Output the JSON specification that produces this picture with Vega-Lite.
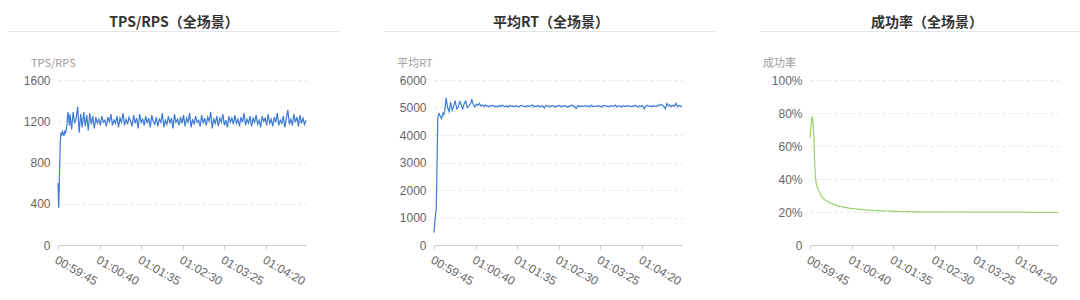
{
"$schema": "https://vega.github.io/schema/vega-lite/v6.json",
"background": "white",
"padding": {"left": 8, "top": 16, "right": 0, "bottom": 0},
"data": {"format": {"parse": {"t": "date:'%H:%M:%S'"}}, "values": [
{"t":"00:59:45","tps":600,"rt":450,"sr":0.65},
{"t":"00:59:46","tps":360,"rt":800,"sr":0.70},
{"t":"00:59:47","tps":700,"rt":1100,"sr":0.76},
{"t":"00:59:48","tps":1000,"rt":1300,"sr":0.78},
{"t":"00:59:49","tps":1090,"rt":2900,"sr":0.74},
{"t":"00:59:50","tps":1060,"rt":4600,"sr":0.67},
{"t":"00:59:51","tps":1100,"rt":4750,"sr":0.52},
{"t":"00:59:52","tps":1080,"rt":4780,"sr":0.42},
{"t":"00:59:53","tps":1060,"rt":4700,"sr":0.38},
{"t":"00:59:54","tps":1110,"rt":4650,"sr":0.36},
{"t":"00:59:55","tps":1090,"rt":4600,"sr":0.345},
{"t":"00:59:56","tps":1120,"rt":4700,"sr":0.335},
{"t":"00:59:57","tps":1180,"rt":4800,"sr":0.325},
{"t":"00:59:58","tps":1290,"rt":4750,"sr":0.315},
{"t":"00:59:59","tps":1240,"rt":4850,"sr":0.305},
{"t":"01:00:00","tps":1160,"rt":5050,"sr":0.298},
{"t":"01:00:01","tps":1270,"rt":5350,"sr":0.29},
{"t":"01:00:03","tps":1120,"rt":5000,"sr":0.28},
{"t":"01:00:05","tps":1290,"rt":4850,"sr":0.273},
{"t":"01:00:07","tps":1180,"rt":5200,"sr":0.267},
{"t":"01:00:09","tps":1230,"rt":4900,"sr":0.262},
{"t":"01:00:11","tps":1340,"rt":5050,"sr":0.257},
{"t":"01:00:13","tps":1090,"rt":5250,"sr":0.253},
{"t":"01:00:15","tps":1270,"rt":4950,"sr":0.249},
{"t":"01:00:17","tps":1140,"rt":5000,"sr":0.245},
{"t":"01:00:19","tps":1290,"rt":5220,"sr":0.242},
{"t":"01:00:21","tps":1150,"rt":5100,"sr":0.239},
{"t":"01:00:23","tps":1260,"rt":4950,"sr":0.236},
{"t":"01:00:25","tps":1110,"rt":5150,"sr":0.234},
{"t":"01:00:27","tps":1280,"rt":5230,"sr":0.232},
{"t":"01:00:29","tps":1170,"rt":5000,"sr":0.23},
{"t":"01:00:31","tps":1250,"rt":5050,"sr":0.228},
{"t":"01:00:33","tps":1130,"rt":5120,"sr":0.226},
{"t":"01:00:35","tps":1240,"rt":5280,"sr":0.225},
{"t":"01:00:37","tps":1180,"rt":5100,"sr":0.223},
{"t":"01:00:39","tps":1220,"rt":5020,"sr":0.222},
{"t":"01:00:41","tps":1160,"rt":5120,"sr":0.221},
{"t":"01:00:43","tps":1250,"rt":5080,"sr":0.22},
{"t":"01:00:45","tps":1190,"rt":5150,"sr":0.219},
{"t":"01:00:47","tps":1210,"rt":5050,"sr":0.218},
{"t":"01:00:49","tps":1150,"rt":5100,"sr":0.217},
{"t":"01:00:51","tps":1240,"rt":5040,"sr":0.216},
{"t":"01:00:53","tps":1190,"rt":5090,"sr":0.215},
{"t":"01:00:55","tps":1270,"rt":5060,"sr":0.214},
{"t":"01:00:57","tps":1160,"rt":5030,"sr":0.213},
{"t":"01:00:59","tps":1210,"rt":5070,"sr":0.212},
{"t":"01:01:01","tps":1180,"rt":5050,"sr":0.211},
{"t":"01:01:03","tps":1250,"rt":5080,"sr":0.211},
{"t":"01:01:05","tps":1140,"rt":5030,"sr":0.21},
{"t":"01:01:07","tps":1230,"rt":5060,"sr":0.21},
{"t":"01:01:09","tps":1190,"rt":5020,"sr":0.209},
{"t":"01:01:11","tps":1280,"rt":5070,"sr":0.209},
{"t":"01:01:13","tps":1160,"rt":5040,"sr":0.208},
{"t":"01:01:15","tps":1220,"rt":5090,"sr":0.208},
{"t":"01:01:17","tps":1170,"rt":5050,"sr":0.208},
{"t":"01:01:19","tps":1240,"rt":5030,"sr":0.207},
{"t":"01:01:21","tps":1200,"rt":5060,"sr":0.207},
{"t":"01:01:23","tps":1150,"rt":5010,"sr":0.206},
{"t":"01:01:25","tps":1260,"rt":5080,"sr":0.206},
{"t":"01:01:27","tps":1180,"rt":5040,"sr":0.206},
{"t":"01:01:29","tps":1230,"rt":5060,"sr":0.205},
{"t":"01:01:31","tps":1130,"rt":5030,"sr":0.205},
{"t":"01:01:33","tps":1270,"rt":5070,"sr":0.205},
{"t":"01:01:35","tps":1190,"rt":5050,"sr":0.204},
{"t":"01:01:37","tps":1220,"rt":5020,"sr":0.204},
{"t":"01:01:39","tps":1160,"rt":5060,"sr":0.204},
{"t":"01:01:41","tps":1250,"rt":5080,"sr":0.204},
{"t":"01:01:43","tps":1180,"rt":5040,"sr":0.203},
{"t":"01:01:45","tps":1230,"rt":5050,"sr":0.203},
{"t":"01:01:47","tps":1140,"rt":5030,"sr":0.203},
{"t":"01:01:49","tps":1260,"rt":5070,"sr":0.203},
{"t":"01:01:51","tps":1200,"rt":5040,"sr":0.202},
{"t":"01:01:53","tps":1170,"rt":5060,"sr":0.202},
{"t":"01:01:55","tps":1240,"rt":5090,"sr":0.202},
{"t":"01:01:57","tps":1150,"rt":5030,"sr":0.202},
{"t":"01:01:59","tps":1220,"rt":5050,"sr":0.202},
{"t":"01:02:01","tps":1190,"rt":5040,"sr":0.201},
{"t":"01:02:03","tps":1280,"rt":5070,"sr":0.202},
{"t":"01:02:05","tps":1140,"rt":5020,"sr":0.201},
{"t":"01:02:07","tps":1210,"rt":5060,"sr":0.201},
{"t":"01:02:09","tps":1170,"rt":5050,"sr":0.201},
{"t":"01:02:11","tps":1250,"rt":4980,"sr":0.2},
{"t":"01:02:13","tps":1180,"rt":5080,"sr":0.201},
{"t":"01:02:15","tps":1230,"rt":5040,"sr":0.201},
{"t":"01:02:17","tps":1130,"rt":5060,"sr":0.2},
{"t":"01:02:19","tps":1270,"rt":5030,"sr":0.201},
{"t":"01:02:21","tps":1190,"rt":5070,"sr":0.2},
{"t":"01:02:23","tps":1220,"rt":5050,"sr":0.201},
{"t":"01:02:25","tps":1160,"rt":5020,"sr":0.2},
{"t":"01:02:27","tps":1240,"rt":5060,"sr":0.2},
{"t":"01:02:29","tps":1180,"rt":5040,"sr":0.201},
{"t":"01:02:31","tps":1260,"rt":5080,"sr":0.2},
{"t":"01:02:33","tps":1150,"rt":5030,"sr":0.2},
{"t":"01:02:35","tps":1230,"rt":5060,"sr":0.201},
{"t":"01:02:37","tps":1190,"rt":5050,"sr":0.2},
{"t":"01:02:39","tps":1280,"rt":5070,"sr":0.2},
{"t":"01:02:41","tps":1140,"rt":5020,"sr":0.2},
{"t":"01:02:43","tps":1220,"rt":5050,"sr":0.201},
{"t":"01:02:45","tps":1170,"rt":5040,"sr":0.2},
{"t":"01:02:47","tps":1250,"rt":5090,"sr":0.2},
{"t":"01:02:49","tps":1190,"rt":5060,"sr":0.2},
{"t":"01:02:51","tps":1210,"rt":5030,"sr":0.2},
{"t":"01:02:53","tps":1150,"rt":4960,"sr":0.2},
{"t":"01:02:55","tps":1260,"rt":5070,"sr":0.2},
{"t":"01:02:57","tps":1180,"rt":5040,"sr":0.2},
{"t":"01:02:59","tps":1230,"rt":5060,"sr":0.2},
{"t":"01:03:01","tps":1160,"rt":5050,"sr":0.2},
{"t":"01:03:03","tps":1240,"rt":5030,"sr":0.2},
{"t":"01:03:05","tps":1200,"rt":5070,"sr":0.2},
{"t":"01:03:07","tps":1290,"rt":5040,"sr":0.199},
{"t":"01:03:09","tps":1130,"rt":5060,"sr":0.2},
{"t":"01:03:11","tps":1220,"rt":5020,"sr":0.2},
{"t":"01:03:13","tps":1180,"rt":5080,"sr":0.199},
{"t":"01:03:15","tps":1250,"rt":5050,"sr":0.2},
{"t":"01:03:17","tps":1150,"rt":5030,"sr":0.199},
{"t":"01:03:19","tps":1230,"rt":5060,"sr":0.2},
{"t":"01:03:21","tps":1190,"rt":5040,"sr":0.199},
{"t":"01:03:23","tps":1270,"rt":5070,"sr":0.2},
{"t":"01:03:25","tps":1160,"rt":5050,"sr":0.199},
{"t":"01:03:27","tps":1210,"rt":5020,"sr":0.199},
{"t":"01:03:29","tps":1140,"rt":5060,"sr":0.2},
{"t":"01:03:31","tps":1250,"rt":5080,"sr":0.199},
{"t":"01:03:33","tps":1190,"rt":5040,"sr":0.199},
{"t":"01:03:35","tps":1230,"rt":5050,"sr":0.199},
{"t":"01:03:37","tps":1170,"rt":5030,"sr":0.2},
{"t":"01:03:39","tps":1260,"rt":5070,"sr":0.199},
{"t":"01:03:41","tps":1180,"rt":5060,"sr":0.199},
{"t":"01:03:43","tps":1220,"rt":5040,"sr":0.199},
{"t":"01:03:45","tps":1150,"rt":5090,"sr":0.199},
{"t":"01:03:47","tps":1240,"rt":5030,"sr":0.199},
{"t":"01:03:49","tps":1190,"rt":5050,"sr":0.199},
{"t":"01:03:51","tps":1280,"rt":5060,"sr":0.199},
{"t":"01:03:53","tps":1160,"rt":5020,"sr":0.199},
{"t":"01:03:55","tps":1220,"rt":5070,"sr":0.199},
{"t":"01:03:57","tps":1180,"rt":5040,"sr":0.199},
{"t":"01:03:59","tps":1250,"rt":5060,"sr":0.199},
{"t":"01:04:01","tps":1150,"rt":5050,"sr":0.199},
{"t":"01:04:03","tps":1230,"rt":5070,"sr":0.199},
{"t":"01:04:05","tps":1190,"rt":5030,"sr":0.199},
{"t":"01:04:07","tps":1260,"rt":5060,"sr":0.199},
{"t":"01:04:09","tps":1170,"rt":5040,"sr":0.199},
{"t":"01:04:11","tps":1210,"rt":5080,"sr":0.199},
{"t":"01:04:13","tps":1140,"rt":5050,"sr":0.199},
{"t":"01:04:15","tps":1250,"rt":5020,"sr":0.199},
{"t":"01:04:17","tps":1200,"rt":5060,"sr":0.199},
{"t":"01:04:19","tps":1230,"rt":5040,"sr":0.199},
{"t":"01:04:21","tps":1160,"rt":5070,"sr":0.199},
{"t":"01:04:23","tps":1270,"rt":4950,"sr":0.199},
{"t":"01:04:25","tps":1180,"rt":5050,"sr":0.199},
{"t":"01:04:27","tps":1220,"rt":5080,"sr":0.199},
{"t":"01:04:29","tps":1150,"rt":5040,"sr":0.199},
{"t":"01:04:31","tps":1240,"rt":5060,"sr":0.198},
{"t":"01:04:33","tps":1190,"rt":5030,"sr":0.199},
{"t":"01:04:35","tps":1280,"rt":5070,"sr":0.198},
{"t":"01:04:37","tps":1160,"rt":5050,"sr":0.198},
{"t":"01:04:39","tps":1210,"rt":5040,"sr":0.198},
{"t":"01:04:41","tps":1180,"rt":5090,"sr":0.198},
{"t":"01:04:43","tps":1250,"rt":5060,"sr":0.198},
{"t":"01:04:45","tps":1140,"rt":5120,"sr":0.198},
{"t":"01:04:47","tps":1230,"rt":5080,"sr":0.198},
{"t":"01:04:49","tps":1310,"rt":5040,"sr":0.198},
{"t":"01:04:51","tps":1170,"rt":4950,"sr":0.198},
{"t":"01:04:53","tps":1220,"rt":5150,"sr":0.198},
{"t":"01:04:55","tps":1160,"rt":5060,"sr":0.198},
{"t":"01:04:57","tps":1270,"rt":5090,"sr":0.198},
{"t":"01:04:59","tps":1190,"rt":5030,"sr":0.198},
{"t":"01:05:01","tps":1240,"rt":5080,"sr":0.198},
{"t":"01:05:03","tps":1150,"rt":5050,"sr":0.198},
{"t":"01:05:05","tps":1260,"rt":5150,"sr":0.198},
{"t":"01:05:07","tps":1180,"rt":5030,"sr":0.198},
{"t":"01:05:09","tps":1230,"rt":5070,"sr":0.198},
{"t":"01:05:11","tps":1170,"rt":5040,"sr":0.198},
{"t":"01:05:13","tps":1210,"rt":5060,"sr":0.198}
]},
"bounds": "flush",
"spacing": 50,
"vconcat": [
{"bounds": "flush", "spacing": 128, "hconcat": [
 {"width": 248, "height": 1, "title": {"text": "TPS/RPS（全场景）", "dx": -8}, "data": {"values": [{"v": 0}, {"v": 1}]}, "mark": {"type": "point", "opacity": 0, "size": 0},
  "encoding": {"x": {"field": "v", "type": "quantitative", "scale": {"domain": [0, 1], "range": [-49.5, 282.5]}, "axis": {"title": null, "labels": false, "ticks": false, "grid": false, "domainColor": "#e4e6eb"}}}},
 {"width": 248, "height": 1, "title": {"text": "平均RT（全场景）", "dx": -7}, "data": {"values": [{"v": 0}, {"v": 1}]}, "mark": {"type": "point", "opacity": 0, "size": 0},
  "encoding": {"x": {"field": "v", "type": "quantitative", "scale": {"domain": [0, 1], "range": [-49.5, 282.5]}, "axis": {"title": null, "labels": false, "ticks": false, "grid": false, "domainColor": "#e4e6eb"}}}},
 {"width": 248, "height": 1, "title": {"text": "成功率（全场景）", "dx": -7}, "data": {"values": [{"v": 0}, {"v": 1}]}, "mark": {"type": "point", "opacity": 0, "size": 0},
  "encoding": {"x": {"field": "v", "type": "quantitative", "scale": {"domain": [0, 1], "range": [-50, 270]}, "axis": {"title": null, "labels": false, "ticks": false, "grid": false, "domainColor": "#e4e6eb"}}}}
]},
{"bounds": "flush", "spacing": 128, "hconcat": [
 {"width": 248, "height": 165, "mark": {"type": "line", "color": "#3b7bd6", "strokeWidth": 1.2},
  "encoding": {
   "x": {"field": "t", "type": "temporal", "title": null,
     "scale": {"nice": false, "domain": [{"year": 1900, "month": 1, "date": 1, "hours": 0, "minutes": 59, "seconds": 45}, {"year": 1900, "month": 1, "date": 1, "hours": 1, "minutes": 5, "seconds": 13}]},
     "axis": {"format": "%H:%M:%S", "values": [
       {"year": 1900, "month": 1, "date": 1, "hours": 0, "minutes": 59, "seconds": 45},
       {"year": 1900, "month": 1, "date": 1, "hours": 1, "minutes": 0, "seconds": 40},
       {"year": 1900, "month": 1, "date": 1, "hours": 1, "minutes": 1, "seconds": 35},
       {"year": 1900, "month": 1, "date": 1, "hours": 1, "minutes": 2, "seconds": 30},
       {"year": 1900, "month": 1, "date": 1, "hours": 1, "minutes": 3, "seconds": 25},
       {"year": 1900, "month": 1, "date": 1, "hours": 1, "minutes": 4, "seconds": 20}]}},
   "y": {"field": "tps", "type": "quantitative", "scale": {"domain": [0, 1600], "nice": false},
     "axis": {"title": "TPS/RPS", "format": "d", "values": [0, 400, 800, 1200, 1600], "titleX": -27.5, "titleY": -17}}
  }},
 {"width": 248, "height": 165, "mark": {"type": "line", "color": "#3b7bd6", "strokeWidth": 1.2},
  "encoding": {
   "x": {"field": "t", "type": "temporal", "title": null,
     "scale": {"nice": false, "domain": [{"year": 1900, "month": 1, "date": 1, "hours": 0, "minutes": 59, "seconds": 45}, {"year": 1900, "month": 1, "date": 1, "hours": 1, "minutes": 5, "seconds": 13}]},
     "axis": {"format": "%H:%M:%S", "values": [
       {"year": 1900, "month": 1, "date": 1, "hours": 0, "minutes": 59, "seconds": 45},
       {"year": 1900, "month": 1, "date": 1, "hours": 1, "minutes": 0, "seconds": 40},
       {"year": 1900, "month": 1, "date": 1, "hours": 1, "minutes": 1, "seconds": 35},
       {"year": 1900, "month": 1, "date": 1, "hours": 1, "minutes": 2, "seconds": 30},
       {"year": 1900, "month": 1, "date": 1, "hours": 1, "minutes": 3, "seconds": 25},
       {"year": 1900, "month": 1, "date": 1, "hours": 1, "minutes": 4, "seconds": 20}]}},
   "y": {"field": "rt", "type": "quantitative", "scale": {"domain": [0, 6000], "nice": false},
     "axis": {"title": "平均RT", "format": "d", "values": [0, 1000, 2000, 3000, 4000, 5000, 6000], "titleX": -37.3, "titleY": -17}}
  }},
 {"width": 248, "height": 165, "mark": {"type": "line", "color": "#98d36c", "strokeWidth": 1.2},
  "encoding": {
   "x": {"field": "t", "type": "temporal", "title": null,
     "scale": {"nice": false, "domain": [{"year": 1900, "month": 1, "date": 1, "hours": 0, "minutes": 59, "seconds": 45}, {"year": 1900, "month": 1, "date": 1, "hours": 1, "minutes": 5, "seconds": 13}]},
     "axis": {"format": "%H:%M:%S", "values": [
       {"year": 1900, "month": 1, "date": 1, "hours": 0, "minutes": 59, "seconds": 45},
       {"year": 1900, "month": 1, "date": 1, "hours": 1, "minutes": 0, "seconds": 40},
       {"year": 1900, "month": 1, "date": 1, "hours": 1, "minutes": 1, "seconds": 35},
       {"year": 1900, "month": 1, "date": 1, "hours": 1, "minutes": 2, "seconds": 30},
       {"year": 1900, "month": 1, "date": 1, "hours": 1, "minutes": 3, "seconds": 25},
       {"year": 1900, "month": 1, "date": 1, "hours": 1, "minutes": 4, "seconds": 20}]}},
   "y": {"field": "sr", "type": "quantitative", "scale": {"domain": [0, 1], "nice": false},
     "axis": {"title": "成功率", "values": [0, 0.2, 0.4, 0.6, 0.8, 1], "labelExpr": "datum.value == 0 ? '0' : format(datum.value, '.0%')", "titleX": -47.6, "titleY": -17}}
  }}
]}
],
"config": {
 "font": "Liberation Sans, Noto Sans CJK SC",
 "view": {"stroke": null},
 "title": {"font": "Noto Sans CJK SC", "fontSize": 14, "fontWeight": "bold", "color": "#333333", "anchor": "middle", "baseline": "alphabetic", "offset": 0, "dy": 4},
 "axis": {"labelFontSize": 12, "labelColor": "#666666", "titleColor": "#9a9a9a", "titleFontSize": 11, "titleFontWeight": "normal", "titleFont": "Noto Sans CJK SC", "gridColor": "#e6e6e6", "gridDash": [3, 3], "gridWidth": 1},
 "axisY": {"domain": false, "ticks": false, "tickSize": 0, "labelPadding": 8, "titleAngle": 0, "titleAlign": "left", "titleBaseline": "middle", "grid": true},
 "axisX": {"grid": false, "domainColor": "#c6ccd7", "tickColor": "#c6ccd7", "tickSize": 4, "labelAngle": 30, "labelAlign": "left", "labelBaseline": "top", "labelPadding": 5, "labelFlush": false, "labelOverlap": false}
}
}
